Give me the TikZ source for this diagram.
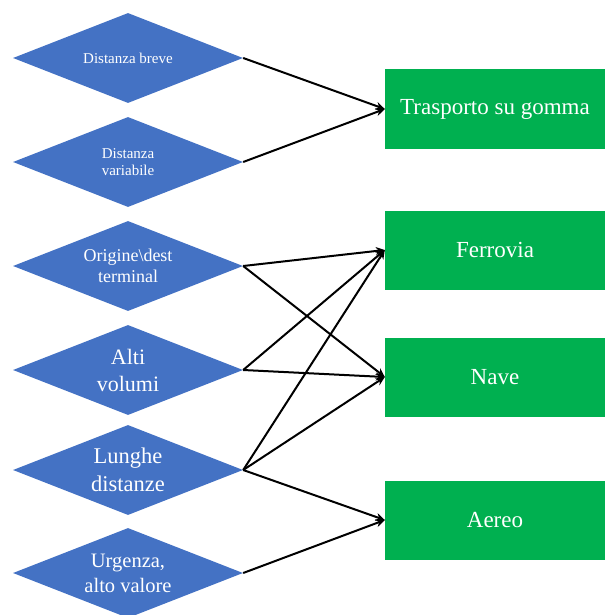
\documentclass[tikz,border=0pt]{standalone}
\usepackage{fontspec}
\setmainfont{Liberation Serif}
\usetikzlibrary{arrows.meta,shapes.geometric,positioning}
\definecolor{critblu}{RGB}{68,114,196}
\definecolor{modoverde}{RGB}{0,176,80}
\tikzset{
  crit/.style={diamond, fill=critblu, text=white, align=center, inner sep=0pt,
    aspect=2.56, minimum width=230pt, minimum height=90pt},
  modo/.style={rectangle, fill=modoverde, text=white, align=center,
    minimum width=220pt, minimum height=79pt, font=\fontsize{23}{27}\selectfont},
  link/.style={-{Stealth[length=9pt,width=8pt]}, line width=2pt}
}

\begin{document}
\begin{tikzpicture}[x=1pt, y=-1pt]
    \useasboundingbox (0,0) rectangle (605,615);
    % criteri
    \node[crit, font=\fontsize{15}{17}\selectfont] (breve) at (128,58) {Distanza breve};
    \node[crit, font=\fontsize{15}{17}\selectfont] (variabile) at (128,162) {Distanza\\variabile};
    \node[crit, font=\fontsize{18}{21}\selectfont] (terminal) at (128,266) {Origine\textbackslash dest\\terminal};
    \node[crit, font=\fontsize{22}{27}\selectfont] (volumi) at (128,370) {Alti\\volumi};
    \node[crit, font=\fontsize{22.5}{28}\selectfont] (lunghe) at (128,470) {Lunghe\\distanze};
    \node[crit, font=\fontsize{20.5}{25}\selectfont] (urgenza) at (128,573) {Urgenza,\\alto valore};
    % modalità di trasporto
    \node[modo] (gomma) at (495,109) {Trasporto su gomma};
    \node[modo] (ferrovia) at (495,250) {Ferrovia};
    \node[modo] (nave) at (495,377) {Nave};
    \node[modo] (aereo) at (495,520) {Aereo};
    % collegamenti
    \draw[link] (breve.east) -- (gomma.west);
    \draw[link] (variabile.east) -- (gomma.west);
    \draw[link] (terminal.east) -- (ferrovia.west);
    \draw[link] (terminal.east) -- (nave.west);
    \draw[link] (volumi.east) -- (ferrovia.west);
    \draw[link] (volumi.east) -- (nave.west);
    \draw[link] (lunghe.east) -- (ferrovia.west);
    \draw[link] (lunghe.east) -- (nave.west);
    \draw[link] (lunghe.east) -- (aereo.west);
    \draw[link] (urgenza.east) -- (aereo.west);
\end{tikzpicture}
\end{document}
